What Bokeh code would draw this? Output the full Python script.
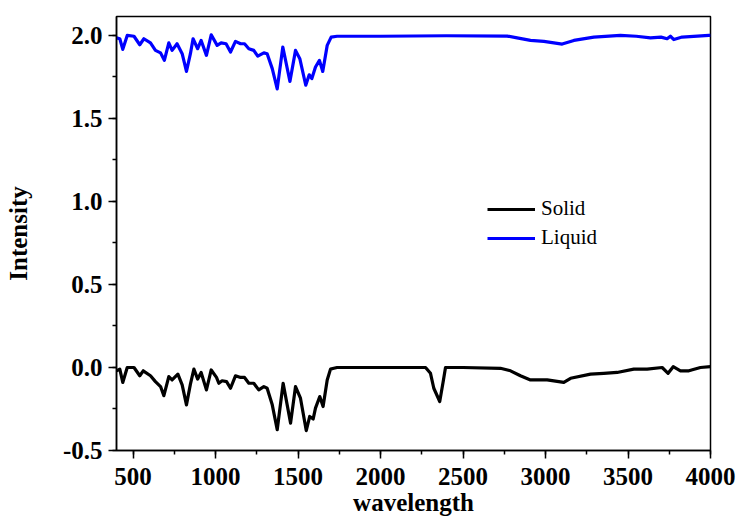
from bokeh.plotting import figure
from bokeh.models import Range1d, SingleIntervalTicker, PrintfTickFormatter, Legend, LegendItem
from bokeh.embed import file_html
from bokeh.resources import INLINE

solid_x = [400, 420, 438, 465, 506, 541, 562, 606, 636, 667, 687, 717, 737, 772, 798, 824, 848,
           869, 892, 913, 945, 974, 1006, 1020, 1040, 1067, 1091, 1121, 1152, 1176, 1202, 1232,
           1262, 1293, 1313, 1344, 1374, 1410, 1455, 1485, 1515, 1550, 1571, 1592, 1606, 1632,
           1652, 1677, 1697, 1717, 1737, 2000, 2273, 2303, 2323, 2359, 2380, 2394, 2500, 2727,
           2788, 2848, 2909, 3010, 3111, 3152, 3273, 3353, 3434, 3535, 3616, 3707, 3743, 3774,
           3818, 3869, 3939, 4000]
solid_y = [-0.02, -0.01, -0.09, 0.0, 0.0, -0.05, -0.02, -0.05, -0.085, -0.115, -0.17, -0.055,
           -0.075, -0.04, -0.105, -0.225, -0.10, -0.01, -0.07, -0.03, -0.135, -0.015, -0.06,
           -0.095, -0.08, -0.085, -0.125, -0.05, -0.06, -0.06, -0.095, -0.095, -0.135, -0.115,
           -0.125, -0.225, -0.375, -0.095, -0.335, -0.115, -0.185, -0.38, -0.295, -0.31, -0.245,
           -0.175, -0.235, -0.075, -0.01, -0.005, 0.0, 0.0, 0.0, -0.035, -0.125, -0.205, -0.085,
           0.0, 0.0, -0.005, -0.02, -0.05, -0.075, -0.075, -0.09, -0.065, -0.04, -0.035, -0.03,
           -0.01, -0.01, 0.0, -0.035, 0.005, -0.02, -0.02, 0.0, 0.005]

liquid_x = [400, 420, 438, 465, 506, 541, 566, 606, 636, 667, 690, 717, 737, 767, 798, 824, 848,
            864, 892, 913, 945, 974, 1010, 1034, 1064, 1091, 1121, 1152, 1176, 1202, 1232, 1256,
            1293, 1313, 1344, 1374, 1408, 1451, 1485, 1511, 1547, 1568, 1584, 1606, 1630, 1650,
            1677, 1701, 1737, 2000, 2400, 2768, 2828, 2909, 2990, 3101, 3172, 3293, 3454, 3550,
            3636, 3700, 3737, 3757, 3778, 3828, 3990, 4000]
liquid_y = [1.985, 1.98, 1.916, 2.0, 1.995, 1.944, 1.98, 1.955, 1.91, 1.895, 1.85, 1.955, 1.91,
            1.95, 1.89, 1.783, 1.89, 1.98, 1.92, 1.97, 1.88, 2.004, 1.94, 1.955, 1.95, 1.90,
            1.964, 1.95, 1.95, 1.92, 1.91, 1.875, 1.895, 1.89, 1.80, 1.678, 1.93, 1.723, 1.91,
            1.86, 1.70, 1.763, 1.74, 1.81, 1.85, 1.783, 1.94, 1.99, 1.995, 1.995, 1.998, 1.996,
            1.985, 1.97, 1.964, 1.948, 1.97, 1.99, 2.0, 1.995, 1.985, 1.99, 1.98, 1.995, 1.975,
            1.99, 2.0, 2.0]

x_title = "wavelength"
y_title = "Intensity"
series_names = ["Solid", "Liquid"]

FONT = "Liberation Serif"

p = figure(width=739, height=519, output_backend="svg", toolbar_location=None,
           x_range=Range1d(400, 4000), y_range=Range1d(-0.5, 2.114),
           min_border_left=116, min_border_right=29, min_border_top=16, min_border_bottom=69)

r_solid = p.line(solid_x, solid_y, line_color="black", line_width=3.2, line_join="round")
r_liquid = p.line(liquid_x, liquid_y, line_color="#0000ff", line_width=3.2, line_join="round")

p.grid.visible = False
p.outline_line_color = "black"
p.outline_line_width = 1.5

p.xaxis.ticker = SingleIntervalTicker(interval=500, num_minor_ticks=2)
p.yaxis.ticker = SingleIntervalTicker(interval=0.5, num_minor_ticks=2)
p.yaxis.formatter = PrintfTickFormatter(format="%.1f")

for ax in (p.xaxis[0], p.yaxis[0]):
    ax.axis_line_color = "black"
    ax.axis_line_width = 1.5
    ax.major_tick_line_color = "black"
    ax.major_tick_line_width = 1.5
    ax.minor_tick_line_color = "black"
    ax.minor_tick_line_width = 1.5
    ax.major_tick_out = 8
    ax.major_tick_in = 0
    ax.minor_tick_out = 4
    ax.minor_tick_in = 0
    ax.major_label_text_font = FONT
    ax.major_label_text_font_style = "bold"
    ax.major_label_text_font_size = "25px"
    ax.major_label_text_color = "black"
    ax.axis_label_text_font = FONT
    ax.axis_label_text_font_style = "bold"
    ax.axis_label_text_font_size = "25px"
    ax.axis_label_text_color = "black"

p.xaxis.axis_label = x_title
p.yaxis.axis_label = y_title
p.xaxis.major_label_standoff = 9
p.xaxis.axis_label_standoff = 1
p.yaxis.major_label_standoff = 6
p.yaxis.axis_label_standoff = 28

legend = Legend(items=[LegendItem(label=series_names[0], renderers=[r_solid]),
                       LegendItem(label=series_names[1], renderers=[r_liquid])],
                location=(371, 200), glyph_width=48, glyph_height=24, label_height=24,
                label_standoff=6, spacing=4, padding=0, margin=0,
                background_fill_alpha=0, border_line_alpha=0,
                label_text_font=FONT, label_text_font_size="21px", label_text_color="black")
p.add_layout(legend, "center")

open("out.html", "w").write(file_html(p, INLINE))
